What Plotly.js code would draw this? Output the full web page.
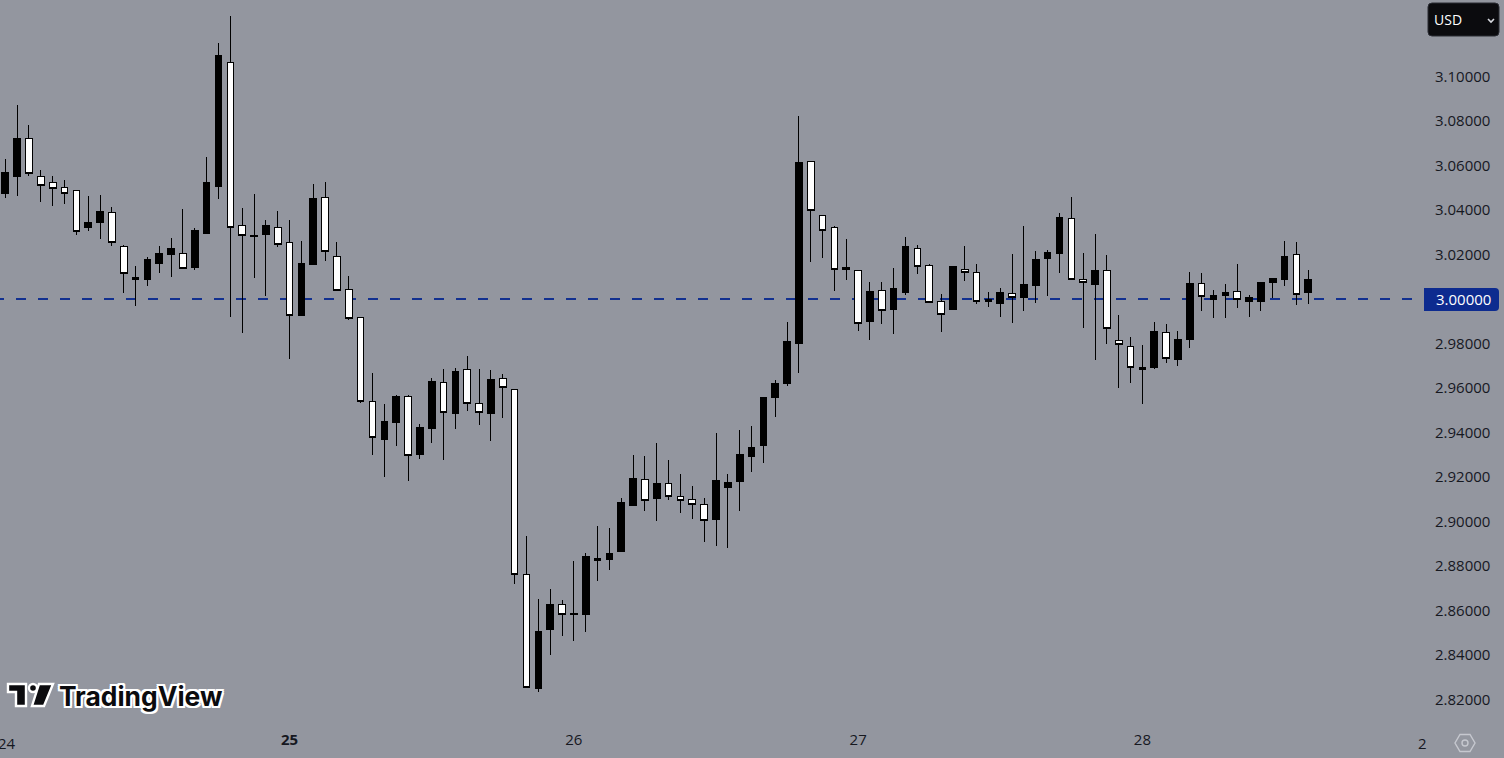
<!DOCTYPE html>
<html>
<head>
<meta charset="utf-8">
<script src="https://cdn.plot.ly/plotly-3.0.1.min.js"></script>
<style>html,body{margin:0;padding:0;background:#93969f;overflow:hidden}#c{width:1504px;height:758px}
.boxes path{shape-rendering:crispEdges}</style>
</head>
<body>
<div id="c"></div>
<script>
// Hourly candles, 24 -> 28; x is hours since the first candle (day 24, hour 0)
const opens = [3.0474,3.0551,3.0723,3.0552,3.0525,3.0503,3.0489,3.0320,3.0344,3.0390,3.0237,3.0087,3.0086,3.0158,3.0198,3.0206,3.0140,3.0293,3.0504,3.1061,3.0332,3.0279,3.0288,3.0323,3.0255,2.9928,3.0153,3.0458,3.0192,3.0044,2.9918,2.9540,2.9370,2.9447,2.9562,2.9303,2.9420,2.9625,2.9487,2.9684,2.9531,2.9487,2.9643,2.9594,2.8761,2.8250,2.8515,2.8626,2.8580,2.8583,2.8826,2.8830,2.8866,2.9073,2.9189,2.9105,2.9171,2.9112,2.9099,2.9076,2.9010,2.9154,2.9181,2.9294,2.9343,2.9559,2.9618,2.9802,3.0617,3.0377,3.0320,3.0131,3.0129,2.9897,3.0036,2.9951,3.0027,3.0228,3.0152,2.9991,2.9951,3.0134,3.0120,2.9987,2.9982,3.0026,3.0005,3.0059,3.0180,3.0203,3.0363,3.0089,3.0063,3.0129,2.9814,2.9787,2.9682,2.9690,2.9850,2.9730,2.9820,3.0071,3.0000,3.0018,3.0035,2.9991,2.9991,3.0072,3.0086,3.0201,3.0027];
const highs = [3.0630,3.0873,3.0783,3.0581,3.0554,3.0536,3.0489,3.0464,3.0468,3.0414,3.0243,3.0149,3.0189,3.0239,3.0275,3.0405,3.0320,3.0639,3.1152,3.1274,3.0410,3.0473,3.0356,3.0396,3.0356,3.0261,3.0518,3.0527,3.0257,3.0104,2.9918,2.9667,2.9528,2.9568,2.9568,2.9438,2.9645,2.9685,2.9690,2.9744,2.9685,2.9681,2.9663,2.9594,2.8934,2.8650,2.8695,2.8646,2.8821,2.8857,2.8979,2.8970,2.9105,2.9298,2.9294,2.9352,2.9276,2.9213,2.9159,2.9105,2.9397,2.9213,2.9411,2.9429,2.9559,2.9636,2.9897,3.0824,3.0621,3.0378,3.0329,3.0270,3.0131,3.0077,3.0077,3.0140,3.0279,3.0243,3.0158,3.0023,3.0144,3.0239,3.0158,3.0032,3.0050,3.0203,3.0329,3.0216,3.0221,3.0387,3.0459,3.0207,3.0293,3.0198,2.9928,2.9829,2.9793,2.9897,2.9888,2.9856,3.0122,3.0117,3.0041,3.0068,3.0158,3.0018,3.0072,3.0090,3.0261,3.0257,3.0131];
const lows = [3.0455,3.0461,3.0551,3.0438,3.0416,3.0428,3.0288,3.0306,3.0270,3.0239,3.0027,2.9969,3.0059,3.0117,3.0099,3.0138,3.0131,3.0293,3.0450,2.9919,2.9847,3.0095,3.0014,3.0234,2.9730,2.9928,3.0153,3.0171,3.0038,2.9906,2.9532,2.9298,2.9199,2.9339,2.9181,2.9280,2.9352,2.9276,2.9415,2.9496,2.9433,2.9361,2.9465,2.8718,2.8256,2.8232,2.8398,2.8484,2.8461,2.8502,2.8731,2.8781,2.8866,2.9073,2.9046,2.9001,2.9096,2.9037,2.9010,2.8907,2.8889,2.8880,2.9046,2.9222,2.9262,2.9469,2.9609,2.9667,3.0167,3.0185,3.0036,3.0086,2.9856,2.9816,2.9888,2.9843,3.0018,3.0113,2.9984,2.9852,2.9951,3.0081,2.9978,2.9964,2.9919,2.9892,2.9946,2.9982,3.0014,3.0117,3.0087,2.9870,2.9726,2.9798,2.9600,2.9622,2.9528,2.9685,2.9712,2.9699,2.9780,2.9946,2.9915,2.9915,2.9960,2.9919,2.9946,3.0005,3.0059,2.9973,2.9978];
const closes = [3.0567,3.0720,3.0564,3.0510,3.0498,3.0476,3.0305,3.0342,3.0392,3.0254,3.0114,3.0095,3.0176,3.0203,3.0225,3.0138,3.0306,3.0522,3.1094,3.0321,3.0285,3.0284,3.0329,3.0245,2.9927,3.0158,3.0450,3.0213,3.0038,2.9912,2.9538,2.9376,2.9451,2.9564,2.9295,2.9424,2.9627,2.9489,2.9676,2.9529,2.9489,2.9640,2.9601,2.8760,2.8256,2.8506,2.8628,2.8580,2.8586,2.8844,2.8833,2.8857,2.9087,2.9195,2.9093,2.9172,2.9111,2.9093,2.9075,2.9003,2.9186,2.9177,2.9303,2.9334,2.9559,2.9622,2.9811,3.0612,3.0398,3.0308,3.0132,3.0140,2.9889,3.0032,2.9948,3.0045,3.0234,3.0146,2.9984,2.9930,3.0144,3.0119,2.9988,2.9996,3.0027,3.0005,3.0063,3.0176,3.0207,3.0365,3.0087,3.0074,3.0126,2.9867,2.9795,2.9691,2.9690,2.9856,2.9732,2.9820,3.0068,3.0011,3.0018,3.0027,2.9997,3.0009,3.0072,3.0090,3.0189,3.0020,3.0086];
const dayTicks = [24,48,72,96];
const dayLabels = ["<b>25</b>","26","27","28"];
const priceTicks = [2.82,2.84,2.86,2.88,2.90,2.92,2.94,2.96,2.98,3.02,3.04,3.06,3.08,3.10];
const priceLabels = ["2.82000","2.84000","2.86000","2.88000","2.90000","2.92000","2.94000","2.96000","2.98000","3.02000","3.04000","3.06000","3.08000","3.10000"];
const levelPrice = 3.00;
const levelLabel = "3.00000";

const hours = opens.map((_, i) => i);
const W = 1504, H = 758, plotW = 1420, plotH = 731;
const pxPerBar = 11.845, firstBarPx = 5.3;
const xOf = px => (px - firstBarPx) / pxPerBar;
const scale = 2225, levelPx = 299;
const yOf = px => levelPrice + (levelPx - px) / scale;

// chrome shapes in page pixels
const chrome = (d, o) => Object.assign({
  type: 'path', layer: 'above',
  xref: 'paper', xsizemode: 'pixel', xanchor: 0,
  yref: 'paper', ysizemode: 'pixel', yanchor: 0,
  path: d.replace(/(-?[\d.]+),(-?[\d.]+)/g, (m, a, b) => a + ',' + (plotH - parseFloat(b)))
}, o);
// full circle as four cubic arcs
const circle = (cx, cy, r) => {
  const k = r * 0.5523;
  return `M${cx - r},${cy} C${cx - r},${cy - k} ${cx - k},${cy - r} ${cx},${cy - r} C${cx + k},${cy - r} ${cx + r},${cy - k} ${cx + r},${cy} C${cx + r},${cy + k} ${cx + k},${cy + r} ${cx},${cy + r} C${cx - k},${cy + r} ${cx - r},${cy + k} ${cx - r},${cy} Z`;
};
const outline = {color: '#ffffff', width: 2.4};
const iconLine = {color: '#c6c8cf', width: 1.4};

const shapes = [
  {type: 'line', layer: 'below', xref: 'x', yref: 'y', x0: xOf(-6), x1: xOf(1412), y0: levelPrice, y1: levelPrice,
   line: {color: '#12308f', width: 2, dash: '10px,12px'}},
  // current level tag
  chrome('M1424,288 L1495,288 Q1499,288 1499,292 L1499,307 Q1499,311 1495,311 L1424,311 Z', {fillcolor: '#0d2b8f', line: {width: 0}}),
  // currency button
  chrome('M1432,3 L1495,3 Q1499,3 1499,7 L1499,32 Q1499,36 1495,36 L1432,36 Q1428,36 1428,32 L1428,7 Q1428,3 1432,3 Z',
    {fillcolor: '#0b0b0e', line: {color: '#2a2c33', width: 1}}),
  chrome('M1488,19 L1491,22 L1494,19', {line: {color: '#d8dae0', width: 1.6}}),
  // settings icon
  chrome('M1460,734.5 L1470,734.5 L1475,743 L1470,751.5 L1460,751.5 L1455,743 Z', {line: iconLine}),
  chrome(circle(1465, 743, 3), {line: iconLine}),
  // logo
  chrome('M8,684 L26,684 L26,706 L16,706 L16,692 L8,692 Z', {fillcolor: '#0b0b0e', line: outline}),
  chrome(circle(33, 688, 4), {fillcolor: '#0b0b0e', line: outline}),
  chrome('M39,684 L53,684 L44,706 L32,706 Z', {fillcolor: '#0b0b0e', line: outline})
];

const white = '#ffffff', ink = '#16181f';
const note = (xPx, yPx, anchor, text, font) => ({
  xref: 'paper', yref: 'paper', x: xPx / plotW, y: 1 - yPx / plotH,
  xanchor: anchor, yanchor: 'middle', showarrow: false, borderpad: 0, text, font
});
const annotations = [
  note(1463.5, 299.5, 'center', levelLabel, {family: 'Open Sans', size: 15, color: white}),
  note(1433, 20, 'left', 'USD', {family: 'Open Sans', size: 14, color: white}),
  note(1417, 742.5, 'left', '2', {family: 'Open Sans', size: 15, color: ink}),
  note(-3, 742.5, 'left', '24', {family: 'Open Sans', size: 15, color: ink}),
  note(58, 696, 'left', 'TradingView', {family: 'Inter', size: 26.4, weight: 700, color: '#0b0b0e',
     shadow: '2px 0 0 #fff,-2px 0 0 #fff,0 2px 0 #fff,0 -2px 0 #fff,2px 2px 0 #fff,-2px 2px 0 #fff,2px -2px 0 #fff,-2px -2px 0 #fff'})
];

const trace = {
  type: 'candlestick', x: hours, open: opens, high: highs, low: lows, close: closes,
  whiskerwidth: 0, hoverinfo: 'skip',
  increasing: {line: {color: '#000000', width: 1}, fillcolor: '#000000'},
  decreasing: {line: {color: '#000000', width: 1}, fillcolor: '#ffffff'}
};

const layout = {
  width: W, height: H, showlegend: false,
  paper_bgcolor: '#93969f', plot_bgcolor: '#93969f',
  margin: {l: 0, r: W - plotW, t: 0, b: H - plotH, pad: 0},
  boxgap: 0.2,
  font: {family: 'Open Sans', size: 15, color: ink},
  xaxis: {
    type: 'linear', range: [xOf(0), xOf(plotW)], rangeslider: {visible: false},
    tickmode: 'array', tickvals: dayTicks, ticktext: dayLabels,
    showgrid: false, zeroline: false, showline: false, ticks: '', ticklabelstandoff: -2,
    tickfont: {family: 'Open Sans', size: 15, color: ink}
  },
  yaxis: {
    side: 'right', range: [yOf(plotH), yOf(0)],
    tickmode: 'array', tickvals: priceTicks, ticktext: priceLabels,
    showgrid: false, zeroline: false, showline: false, ticks: 'outside', ticklen: 11, tickcolor: 'rgba(0,0,0,0)',
    tickfont: {family: 'Open Sans', size: 15, color: ink}
  },
  shapes, annotations
};
Plotly.newPlot('c', [trace], layout, {displayModeBar: false, staticPlot: true});
</script>
</body>
</html>
